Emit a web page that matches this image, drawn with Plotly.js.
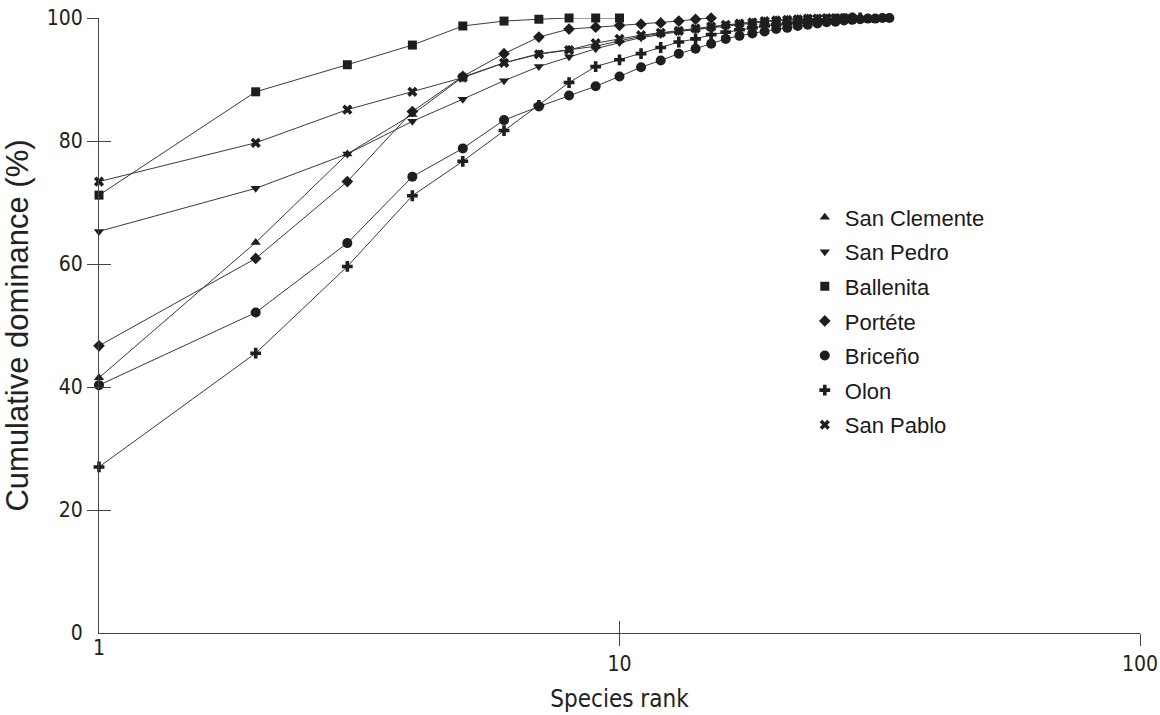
<!DOCTYPE html>
<html>
<head>
<meta charset="utf-8">
<script src="https://cdn.plot.ly/plotly-3.0.1.min.js"></script>
<style>html,body{margin:0;padding:0;background:#fff;}#chart{width:1160px;height:715px;}</style>
</head>
<body>
<div id="chart"></div>
<script>
// Species rank (x) vs cumulative dominance (%) per site
const sanClemente = [41.5, 63.5, 77.9, 84.3, 90.4, 92.7, 94.2, 94.9, 95.4, 96.3, 97.0, 97.5, 97.9, 98.2, 98.5, 98.8, 99.1, 99.3, 99.5, 99.7, 99.8, 99.9, 100, 100, 100, 100];
const sanPedro = [65.3, 72.3, 77.9, 83.2, 86.8, 89.8, 92.1, 93.7, 95.0, 96.0, 96.8, 97.3, 97.8, 98.1, 98.4, 98.7, 99.0, 99.2, 99.4, 99.6, 99.7, 99.8, 99.9, 100, 100, 100];
const ballenita = [71.2, 88.0, 92.4, 95.6, 98.7, 99.5, 99.8, 100, 100, 100];
const portete = [46.7, 60.9, 73.4, 84.8, 90.5, 94.2, 96.9, 98.2, 98.5, 98.8, 99.0, 99.2, 99.5, 99.8, 100];
const briceno = [40.3, 52.1, 63.4, 74.2, 78.8, 83.4, 85.6, 87.4, 88.9, 90.5, 92.0, 93.1, 94.2, 95.0, 95.8, 96.6, 97.1, 97.5, 97.8, 98.2, 98.4, 98.7, 98.9, 99.1, 99.3, 99.4, 99.6, 99.7, 99.8, 99.9, 99.9, 100, 100];
const olon = [27.0, 45.5, 59.6, 71.1, 76.7, 81.7, 85.8, 89.5, 92.1, 93.2, 94.2, 95.2, 96.1, 96.6, 97.3, 97.7, 98.1, 98.4, 98.7, 98.9, 99.1, 99.3, 99.5, 99.6, 99.7, 99.8, 99.9, 100, 100];
const sanPablo = [73.4, 79.7, 85.1, 88.0, 90.3, 92.7, 94.1, 94.8, 95.9, 96.6, 97.2, 97.6, 97.9, 98.3, 98.6, 98.9, 99.1, 99.3, 99.5, 99.6, 99.7, 99.8, 99.9, 99.9, 100, 100, 100, 100];

const siteNames = ["San Clemente", "San Pedro", "Ballenita", "Portéte", "Briceño", "Olon", "San Pablo"];
const siteValues = [sanClemente, sanPedro, ballenita, portete, briceno, olon, sanPablo];
const siteSymbols = ["triangle-up", "triangle-down", "square", "diamond", "circle", "cross", "x"];
const siteSizes = [9, 9, 9, 9, 10, 9, 9];

const xTickVals = [10, 100];
const yTickVals = [20, 40, 60, 80, 100];

const FONT = "Liberation Sans, Arial, sans-serif";
const NARROW = "Liberation Sans Narrow, Arial Narrow, DejaVu Sans Condensed, Liberation Sans, sans-serif";
const INK = "#1e1e1e";

const ranks = v => v.map((_, i) => i + 1);

const traces = [];
siteValues.forEach((vals, i) => {
  traces.push({
    x: ranks(vals), y: vals, type: "scatter", mode: "lines",
    line: {color: "#3a3a3a", width: 1}, showlegend: false, hoverinfo: "skip",
    cliponaxis: false
  });
});
siteValues.forEach((vals, i) => {
  traces.push({
    x: ranks(vals), y: vals, type: "scatter", mode: "markers", name: siteNames[i],
    legendgroup: "g" + i,
    marker: {symbol: siteSymbols[i], size: siteSizes[i], color: INK, line: {width: 0}},
    cliponaxis: false
  });
});
// empty helper traces so the overlay tick axes are drawn
[["x2", "y"], ["x3", "y"], ["x", "y2"], ["x", "y3"]].forEach(([xa, ya]) => {
  traces.push({x: [], y: [], type: "scatter", mode: "markers", xaxis: xa, yaxis: ya, showlegend: false, hoverinfo: "skip"});
});

const axisFont = {family: NARROW, size: 21, color: "#222"};

const layout = {
  width: 1160, height: 715,
  margin: {l: 99, r: 20, t: 18, b: 82},
  paper_bgcolor: "#fff", plot_bgcolor: "#fff",
  font: {family: FONT, color: "#222"},
  showlegend: true,
  legend: {
    x: 0.678, y: 0.71, xanchor: "left", yanchor: "top",
    font: {family: FONT, size: 22, color: "#1a1a1a"},
    traceorder: "grouped", tracegroupgap: 3, bgcolor: "rgba(0,0,0,0)"
  },
  xaxis: {
    type: "log", range: [0, 2], showgrid: false, zeroline: false,
    showline: true, linecolor: "#444", linewidth: 1,
    tickmode: "array", tickvals: xTickVals, ticktext: xTickVals.map(String),
    ticks: "outside", ticklen: 12, tickcolor: "#444", tickfont: axisFont,
    title: {text: "Species rank", font: {family: NARROW, size: 24, color: "#222"}, standoff: 14}
  },
  xaxis2: {
    type: "log", range: [0, 2], overlaying: "x", anchor: "y", side: "bottom",
    showgrid: false, zeroline: false, showline: false,
    tickmode: "array", tickvals: [1], ticktext: ["1"], ticks: "", tickfont: axisFont
  },
  xaxis3: {
    type: "log", range: [0, 2], overlaying: "x", anchor: "y", side: "bottom",
    showgrid: false, zeroline: false, showline: false, showticklabels: false,
    tickmode: "array", tickvals: xTickVals, ticks: "inside", ticklen: 12, tickcolor: "#444", tickwidth: 1
  },
  yaxis: {
    range: [0, 100], showgrid: false, zeroline: false,
    showline: true, linecolor: "#444", linewidth: 1,
    tickmode: "array", tickvals: yTickVals, ticktext: yTickVals.map(String),
    ticks: "outside", ticklen: 11, tickcolor: "#444", tickfont: axisFont,
    title: {text: "Cumulative dominance (%)", font: {family: FONT, size: 31, color: "#222"}, standoff: 14}
  },
  yaxis2: {
    range: [0, 100], overlaying: "y", anchor: "x", side: "left",
    showgrid: false, zeroline: false, showline: false,
    tickmode: "array", tickvals: [0], ticktext: ["0"],
    ticks: "outside", ticklen: 11, tickcolor: "rgba(0,0,0,0)", tickfont: axisFont
  },
  yaxis3: {
    range: [0, 100], overlaying: "y", anchor: "x", side: "left",
    showgrid: false, zeroline: false, showline: false, showticklabels: false,
    tickmode: "array", tickvals: yTickVals, ticks: "inside", ticklen: 12, tickcolor: "#444", tickwidth: 1
  }
};

Plotly.newPlot("chart", traces, layout, {staticPlot: true, displayModeBar: false});
</script>
</body>
</html>
